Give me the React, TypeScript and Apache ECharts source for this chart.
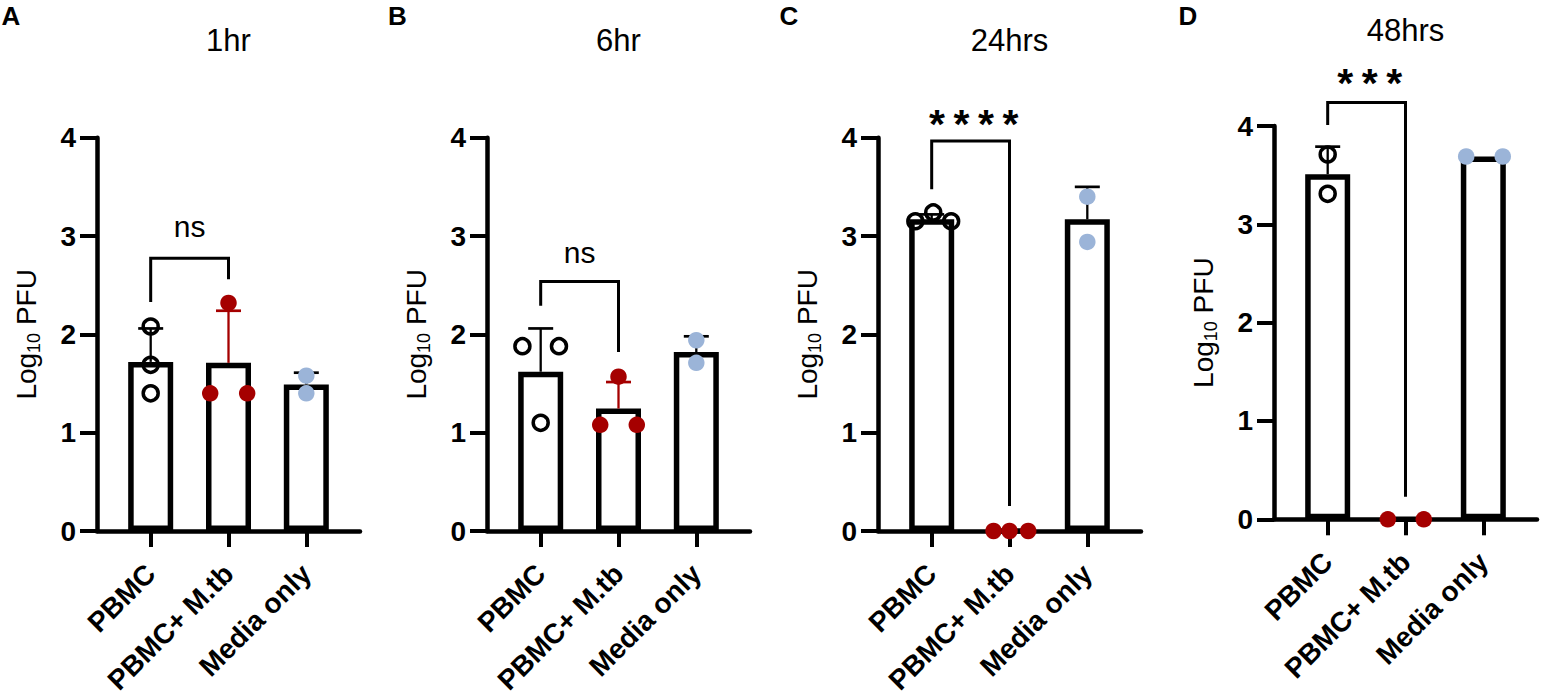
import React, { useEffect, useRef } from "react";
import * as echarts from "echarts";

const FONT = '"Liberation Sans", Arial, Helvetica, sans-serif';
const RED = "#A50000";
const BLUE = "#9BB4D8";

// ---- data ----
const categories = ["PBMC", "PBMC+ M.tb", "Media only"];
const panelLetters = ["A", "B", "C", "D"];
const panelTitles = ["1hr", "6hr", "24hrs", "48hrs"];
const yTickValues = [0, 1, 2, 3, 4];

const barMeans = [
  [1.72, 1.71, 1.49],
  [1.62, 1.245, 1.82],
  [3.17, 0, 3.17],
  [3.51, 0, 3.69],
];
const barSD = [
  [0.34, 0.53, 0.12],
  [0.44, 0.27, 0.16],
  [0.05, 0, 0.33],
  [0.28, 0, 0],
];

const pbmcValues = [
  [2.08, 1.69, 1.4],
  [1.88, 1.1, 1.88],
  [3.15, 3.24, 3.15],
  [3.71, 3.31],
];
const pbmcJitter = [
  [0, 0, 0],
  [-0.235, 0, 0.235],
  [-0.21, 0.02, 0.25],
  [0, 0],
];
const mtbValues = [
  [2.32, 1.4, 1.4],
  [1.08, 1.57, 1.08],
  [0, 0, 0],
  [0, 0],
];
const mtbJitter = [
  [0, -0.235, 0.24],
  [-0.235, 0, 0.235],
  [-0.205, 0, 0.24],
  [-0.227, 0.235],
];
const mediaValues = [
  [1.58, 1.4],
  [1.94, 1.71],
  [3.4, 2.94],
  [3.69, 3.69],
];
const mediaJitter = [
  [0, 0],
  [0, 0],
  [0, 0],
  [-0.22, 0.25],
];

// bracket: [top, left leg end, right leg end]
const bracketTop = [2.774, 2.538, 3.967, 4.24];
const bracketLeftEnd = [2.33, 2.29, 3.476, 4.01];
const bracketRightEnd = [2.56, 1.82, 0.255, 0.23];
const sigLabels = ["ns", "ns", "****", "***"];
const sigLabelX = [0.5, 0.5, 0.54, 0.54];
const sigLabelY = [3.1, 2.83, 4.14, 4.44];

// ---- layout ----
const gridLefts = [97, 487, 878, 1274];
const gridTops = [137.7, 137.7, 137.7, 126];
const GRID_W = 263;
const GRID_H = 393.3;
const titleY = [40, 40, 40, 30.3];
const letterX = [11, 397.5, 789, 1188];
const letterY = 15.8;
const STAR_SPACING = 24.5;

const errColors = ["#000", RED, "#000"];

function textStyle(text: string, font: string) {
  return {
    text,
    fill: "#000",
    font,
    textAlign: "center",
    textVerticalAlign: "middle",
    align: "center",
    verticalAlign: "middle",
  };
}

function buildOption() {
  const grid: any[] = [];
  const xAxis: any[] = [];
  const yAxis: any[] = [];
  const series: any[] = [];
  const graphic: any[] = [];

  for (let p = 0; p < 4; p++) {
    grid.push({
      left: gridLefts[p],
      top: gridTops[p],
      width: GRID_W,
      height: GRID_H,
      containLabel: false,
    });
    xAxis.push({
      type: "value",
      gridIndex: p,
      min: -0.69,
      max: 2.69,
      splitLine: { show: false },
      axisLine: { show: true, onZero: false, lineStyle: { color: "#000", width: 4.5 } },
      axisTick: {
        show: true,
        customValues: [0, 1, 2],
        length: 16,
        lineStyle: { color: "#000", width: 4 },
      },
      axisLabel: {
        show: true,
        customValues: [0, 1, 2],
        formatter: (v: number) => categories[Math.round(v)] ?? "",
        rotate: 45,
        margin: 38,
        padding: [43, 0, 0, 0],
        color: "#000",
        fontFamily: FONT,
        fontWeight: "bold",
        fontSize: 28,
      },
    });
    yAxis.push({
      type: "value",
      gridIndex: p,
      min: 0,
      max: 4,
      interval: 1,
      name: "{a|Log}{b|10}{a| PFU}",
      nameLocation: "middle",
      nameRotate: 90,
      nameGap: 54,
      nameTextStyle: {
        rich: {
          a: { fontFamily: FONT, fontSize: 28, color: "#000", lineHeight: 34 },
          b: { fontFamily: FONT, fontSize: 18, color: "#000", lineHeight: 18, verticalAlign: "bottom" },
        },
      },
      splitLine: { show: false },
      axisLine: { show: true, onZero: false, lineStyle: { color: "#000", width: 4.5 } },
      axisTick: { show: true, length: 17, lineStyle: { color: "#000", width: 4 } },
      axisLabel: {
        show: true,
        margin: 21,
        color: "#000",
        fontFamily: FONT,
        fontWeight: "bold",
        fontSize: 28,
        formatter: (v: number) => (yTickValues.includes(v) ? String(v) : ""),
      },
    });

    // bars
    series.push({
      type: "bar",
      xAxisIndex: p,
      yAxisIndex: p,
      barWidth: 45,
      z: 2,
      itemStyle: { color: "#fff", borderColor: "#000", borderWidth: 5.5 },
      data: barMeans[p].map((m, i) => [i, m]),
    });

    // error bars (upper SD)
    series.push({
      type: "custom",
      xAxisIndex: p,
      yAxisIndex: p,
      z: 3,
      clip: false,
      encode: { x: 0, y: 1 },
      data: barMeans[p].map((m, i) => [i, m, barSD[p][i], i]),
      renderItem: (params: any, api: any) => {
        const x = api.value(0);
        const m = api.value(1);
        const s = api.value(2);
        const col = errColors[api.value(3)];
        if (!(s > 0)) return { type: "group", children: [] };
        const b = api.coord([x, m]);
        const t = api.coord([x, m + s]);
        return {
          type: "group",
          children: [
            { type: "line", shape: { x1: b[0], y1: b[1], x2: t[0], y2: t[1] }, style: { stroke: col, lineWidth: 2.3 } },
            { type: "line", shape: { x1: t[0] - 12.5, y1: t[1], x2: t[0] + 12.5, y2: t[1] }, style: { stroke: col, lineWidth: 2.7 } },
          ],
        };
      },
    });

    // significance bracket
    const label = sigLabels[p];
    const isStar = label.indexOf("*") >= 0;
    series.push({
      type: "custom",
      xAxisIndex: p,
      yAxisIndex: p,
      z: 3,
      clip: false,
      encode: { x: 0, y: 2 },
      data: [[0, 1, bracketTop[p], bracketLeftEnd[p], bracketRightEnd[p], sigLabelX[p], sigLabelY[p]]],
      renderItem: (params: any, api: any) => {
        const x0 = api.value(0);
        const x1 = api.value(1);
        const top = api.value(2);
        const l = api.value(3);
        const r = api.value(4);
        const a = api.coord([x0, l]);
        const b = api.coord([x0, top]);
        const c = api.coord([x1, top]);
        const d = api.coord([x1, r]);
        const lp = api.coord([api.value(5), api.value(6)]);
        const children: any[] = [
          { type: "polyline", shape: { points: [a, b, c, d] }, style: { stroke: "#000", lineWidth: 3, fill: "none" } },
        ];
        if (isStar) {
          const n = label.length;
          for (let k = 0; k < n; k++) {
            children.push({
              type: "text",
              x: lp[0] + (k - (n - 1) / 2) * STAR_SPACING,
              y: lp[1],
              style: textStyle("*", `bold 41px ${FONT}`),
            });
          }
        } else {
          children.push({ type: "text", x: lp[0], y: lp[1], style: textStyle(label, `30px ${FONT}`) });
        }
        return { type: "group", children };
      },
    });

    // points
    series.push({
      type: "scatter",
      xAxisIndex: p,
      yAxisIndex: p,
      z: 4,
      clip: false,
      symbol: "circle",
      symbolSize: 15,
      itemStyle: { color: "rgba(0,0,0,0)", borderColor: "#000", borderWidth: 3.5, opacity: 1 },
      data: pbmcValues[p].map((v, i) => [0 + pbmcJitter[p][i], v]),
    });
    series.push({
      type: "scatter",
      xAxisIndex: p,
      yAxisIndex: p,
      z: 4,
      clip: false,
      symbol: "circle",
      symbolSize: 16.5,
      itemStyle: { color: RED, opacity: 1 },
      data: mtbValues[p].map((v, i) => [1 + mtbJitter[p][i], v]),
    });
    series.push({
      type: "scatter",
      xAxisIndex: p,
      yAxisIndex: p,
      z: 4,
      clip: false,
      symbol: "circle",
      symbolSize: 16.5,
      itemStyle: { color: BLUE, opacity: 1 },
      data: mediaValues[p].map((v, i) => [2 + mediaJitter[p][i], v]),
    });

    // titles and panel letters
    graphic.push({
      type: "text",
      x: gridLefts[p] + GRID_W / 2,
      y: titleY[p],
      style: textStyle(panelTitles[p], `31px ${FONT}`),
    });
    graphic.push({
      type: "text",
      x: letterX[p],
      y: letterY,
      style: textStyle(panelLetters[p], `bold 26px ${FONT}`),
    });
  }

  return {
    animation: false,
    backgroundColor: "#fff",
    textStyle: { fontFamily: FONT },
    grid,
    xAxis,
    yAxis,
    series,
    graphic,
  };
}

export default function App() {
  const ref = useRef<HTMLDivElement>(null);
  useEffect(() => {
    if (!ref.current) return;
    const chart = echarts.init(ref.current, undefined, { renderer: "svg" });
    chart.setOption(buildOption() as any);
    return () => chart.dispose();
  }, []);
  return (
    <div
      ref={ref}
      style={{ position: "absolute", left: 0, top: 0, width: 1546, height: 699, background: "#fff" }}
    />
  );
}
